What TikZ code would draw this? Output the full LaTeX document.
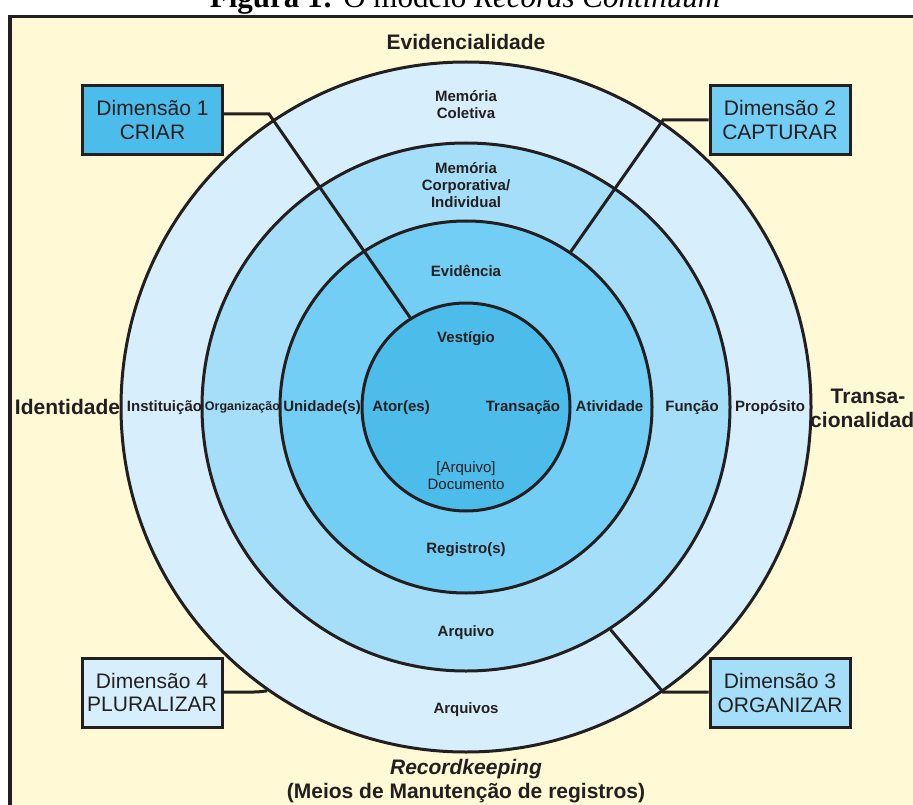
\documentclass[tikz,border=0pt]{standalone}
\usepackage{fontspec}
\setmainfont{Liberation Sans}
\newfontfamily\capfont{Liberation Serif}
\definecolor{paper}{HTML}{FFF9D5}
\definecolor{ringa}{HTML}{D7EFFC}
\definecolor{ringb}{HTML}{A4DEF8}
\definecolor{ringc}{HTML}{73CEF5}
\definecolor{ringd}{HTML}{4CBDEB}
\definecolor{ink}{HTML}{231F20}

\begin{document}
\begin{tikzpicture}[x=1pt,y=-1pt]

\tikzset{ring/.style = {shape=circle,draw=ink,line width=3pt,inner sep=0pt}}
\tikzset{dimbox/.style = {draw=ink,line width=3pt,minimum width=140pt,minimum height=69pt,align=center,text=ink,font=\fontsize{21}{23.5}\selectfont}}
\tikzset{lab/.style = {text=ink,inner sep=0pt,align=center,font=\bfseries\fontsize{15}{17}\selectfont}}
\tikzset{biglab/.style = {text=ink,inner sep=0pt,align=center,font=\bfseries\fontsize{21}{23.5}\selectfont}}
\tikzset{link/.style = {draw=ink,line width=3pt}}

\useasboundingbox (0,0) rectangle (913,805);
\clip (0,0) rectangle (913,805);
\fill[white] (0,0) rectangle (913,805);
\node[anchor=base,inner sep=0pt] (title) at (465,8) {\capfont\fontsize{31}{34}\selectfont\textbf{Figura 1:} O modelo \textit{Records Continuum}};
\fill[paper,draw=ink,line width=3.5pt] (10,16.5) rectangle (960,860);

%rings
\node[ring,fill=ringa,minimum size=690pt] (outer) at (466,407) {};
\node[ring,fill=ringb,minimum size=528pt] (corp) at (466,407) {};
\node[ring,fill=ringc,minimum size=372pt] (evid) at (466,407) {};
\node[ring,fill=ringd,minimum size=208pt] (core) at (466,407) {};

%labels
\node[biglab,anchor=base] (evidl) at (466,50) {Evidencialidade};
\node[biglab,anchor=base] (ident) at (67.5,414) {Identidade};
\node[biglab] (trans) at (868,408.4) {Transa-\\cionalidade};
\node[lab] (memcol) at (466,104.3) {Memória\\Coletiva};
\node[lab] (memcorp) at (466,184.8) {Memória\\Corporativa/\\Individual};
\node[lab,anchor=base] (evidn) at (466,276.4) {Evidência};
\node[lab,anchor=base] (vest) at (466,342.4) {Vestígio};
\node[lab,anchor=base] (inst) at (164.5,411.4) {Instituição};
\node[lab,anchor=base,font=\bfseries\fontsize{12.5}{14}\selectfont] (org) at (242.5,410.5) {Organização};
\node[lab,anchor=base] (unid) at (322,411.4) {Unidade(s)};
\node[lab,anchor=base] (ator) at (401,411.4) {Ator(es)};
\node[lab,anchor=base] (trsc) at (523,411.4) {Transação};
\node[lab,anchor=base] (ativ) at (609.5,411.4) {Atividade};
\node[lab,anchor=base] (func) at (692,411.4) {Função};
\node[lab,anchor=base] (prop) at (770,411.4) {Propósito};
\node[lab,font=\fontsize{15}{17}\selectfont] (doc) at (466,475.4) {[Arquivo]\\Documento};
\node[lab,anchor=base] (regs) at (466,553) {Registro(s)};
\node[lab,anchor=base] (arq) at (466,636.4) {Arquivo};
\node[lab,anchor=base] (arqs) at (466,713.4) {Arquivos};
\node[biglab,font=\fontsize{21}{24.7}\selectfont\bfseries] (rk) at (466,781) {\textit{Recordkeeping}\\(Meios de Manutenção de registros)};

%edges
\coordinate (k1) at (269,114);
\coordinate (k2) at (663,120);
\coordinate (k3) at (663,692);
\coordinate (k4) at (258,692);

\node[dimbox,fill=ringd] (d1) at (152.5,120) {Dimensão 1\\CRIAR};
\node[dimbox,fill=ringc] (d2) at (780,120) {Dimensão 2\\CAPTURAR};
\node[dimbox,fill=ringb] (d3) at (780,693) {Dimensão 3\\ORGANIZAR};
\node[dimbox,fill=ringa] (d4) at (152,692.5) {Dimensão 4\\PLURALIZAR};

\draw[link] (d1.east |- k1) -- (k1) -- (core.122);
\draw[link] (d2.west) -- (k2) -- (evid.56);
\draw[link] (d3.west |- k3) -- (k3) -- (corp.-57);
\draw[link,rounded corners=4pt] (d4.east |- k4) -- (k4) -- (outer.235);

\end{tikzpicture}
\end{document}
